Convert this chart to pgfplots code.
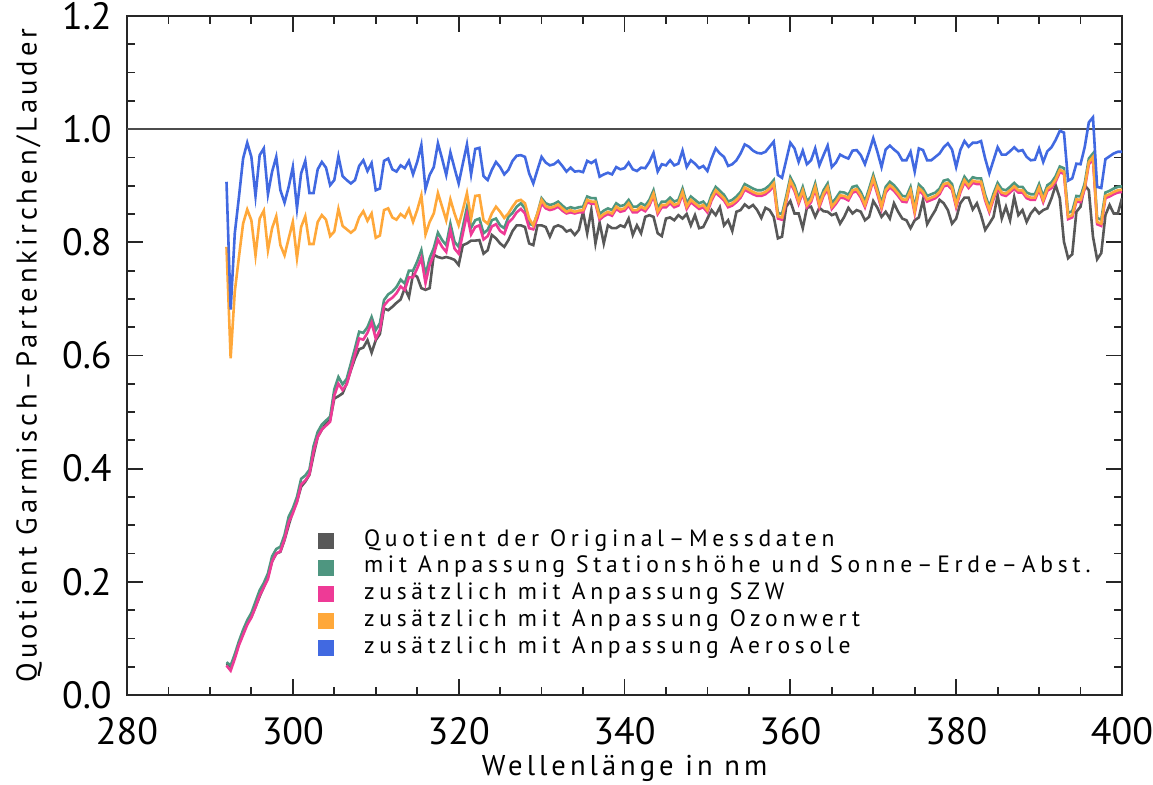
\documentclass[border=0pt]{standalone}
\usepackage{pgfplots}
\pgfplotsset{compat=1.18}
\usepackage{pgfplotstable}
\usepackage{fontspec}
\setmainfont{PT Sans}
\newfontfamily\lblfont[LetterSpace=14]{PT Sans}
\newfontfamily\legfont[LetterSpace=20]{PT Sans}

\definecolor{cgray}{RGB}{88,88,88}
\definecolor{cgreen}{RGB}{78,150,128}
\definecolor{cpink}{RGB}{238,58,150}
\definecolor{corange}{RGB}{255,168,58}
\definecolor{cblue}{RGB}{65,105,225}

% quotient Garmisch-Partenkirchen / Lauder, 0.5 nm steps
\pgfplotstableread{
x gray green pink orange blue
292.0 0.055 0.058 0.052 0.792 0.907
292.5 0.050 0.052 0.043 0.595 0.681
293.0 0.068 0.072 0.064 0.713 0.816
293.5 0.091 0.095 0.088 0.774 0.880
294.0 0.109 0.115 0.106 0.833 0.948
294.5 0.127 0.132 0.124 0.858 0.976
295.0 0.138 0.145 0.137 0.839 0.951
295.5 0.156 0.165 0.155 0.777 0.882
296.0 0.174 0.185 0.176 0.842 0.954
296.5 0.191 0.198 0.190 0.856 0.966
297.0 0.209 0.215 0.205 0.786 0.885
297.5 0.236 0.245 0.236 0.825 0.925
298.0 0.250 0.258 0.250 0.846 0.951
298.5 0.253 0.262 0.254 0.795 0.892
299.0 0.274 0.283 0.275 0.777 0.870
299.5 0.300 0.315 0.305 0.807 0.898
300.0 0.324 0.330 0.321 0.836 0.933
300.5 0.342 0.350 0.341 0.772 0.860
301.0 0.368 0.382 0.372 0.827 0.922
301.5 0.377 0.388 0.379 0.846 0.944
302.0 0.389 0.398 0.390 0.797 0.887
302.5 0.424 0.440 0.430 0.797 0.887
303.0 0.456 0.465 0.456 0.836 0.929
303.5 0.469 0.478 0.469 0.848 0.942
304.0 0.480 0.485 0.476 0.840 0.932
304.5 0.486 0.492 0.483 0.811 0.901
305.0 0.524 0.540 0.529 0.819 0.910
305.5 0.528 0.562 0.550 0.859 0.952
306.0 0.533 0.549 0.539 0.829 0.917
306.5 0.551 0.559 0.549 0.823 0.910
307.0 0.574 0.586 0.575 0.817 0.904
307.5 0.595 0.613 0.602 0.823 0.910
308.0 0.611 0.642 0.630 0.844 0.935
308.5 0.614 0.640 0.628 0.855 0.945
309.0 0.627 0.650 0.640 0.838 0.926
309.5 0.605 0.668 0.658 0.851 0.940
310.0 0.627 0.645 0.630 0.808 0.892
310.5 0.638 0.657 0.645 0.812 0.895
311.0 0.683 0.698 0.688 0.857 0.944
311.5 0.680 0.708 0.697 0.860 0.948
312.0 0.686 0.713 0.702 0.844 0.929
312.5 0.693 0.721 0.710 0.840 0.925
313.0 0.699 0.734 0.722 0.850 0.936
313.5 0.719 0.727 0.716 0.844 0.931
314.0 0.703 0.750 0.738 0.859 0.944
314.5 0.744 0.750 0.738 0.836 0.920
315.0 0.739 0.766 0.754 0.857 0.942
315.5 0.719 0.786 0.772 0.883 0.972
316.0 0.716 0.742 0.728 0.814 0.894
316.5 0.719 0.772 0.760 0.836 0.919
317.0 0.778 0.790 0.778 0.851 0.933
317.5 0.774 0.817 0.805 0.887 0.975
318.0 0.772 0.804 0.792 0.863 0.948
318.5 0.774 0.795 0.783 0.839 0.919
319.0 0.772 0.833 0.821 0.876 0.959
319.5 0.769 0.801 0.789 0.851 0.931
320.0 0.760 0.792 0.780 0.830 0.904
320.5 0.795 0.827 0.815 0.857 0.939
321.0 0.798 0.862 0.850 0.887 0.973
321.5 0.803 0.826 0.814 0.842 0.920
322.0 0.803 0.839 0.827 0.882 0.965
322.5 0.804 0.842 0.830 0.883 0.967
323.0 0.780 0.816 0.805 0.839 0.917
323.5 0.786 0.822 0.811 0.833 0.910
324.0 0.813 0.839 0.828 0.851 0.928
324.5 0.807 0.842 0.832 0.863 0.942
325.0 0.798 0.830 0.820 0.854 0.933
325.5 0.792 0.825 0.815 0.843 0.920
326.0 0.804 0.845 0.835 0.851 0.928
326.5 0.820 0.852 0.842 0.863 0.944
327.0 0.830 0.863 0.853 0.873 0.953
327.5 0.830 0.869 0.859 0.875 0.954
328.0 0.827 0.860 0.851 0.869 0.951
328.5 0.798 0.833 0.825 0.842 0.922
329.0 0.795 0.830 0.823 0.830 0.904
329.5 0.830 0.851 0.843 0.851 0.928
330.0 0.830 0.878 0.869 0.875 0.951
330.5 0.827 0.869 0.860 0.864 0.941
331.0 0.810 0.866 0.857 0.861 0.936
331.5 0.827 0.868 0.859 0.863 0.938
332.0 0.830 0.872 0.863 0.867 0.944
332.5 0.827 0.865 0.856 0.860 0.935
333.0 0.819 0.859 0.851 0.854 0.925
333.5 0.822 0.862 0.853 0.857 0.932
334.0 0.813 0.860 0.851 0.854 0.925
334.5 0.822 0.862 0.853 0.856 0.926
335.0 0.854 0.863 0.853 0.857 0.924
335.5 0.816 0.881 0.871 0.875 0.944
336.0 0.857 0.878 0.868 0.872 0.940
336.5 0.798 0.878 0.868 0.872 0.945
337.0 0.835 0.850 0.840 0.844 0.916
337.5 0.798 0.856 0.846 0.850 0.920
338.0 0.830 0.860 0.850 0.854 0.923
338.5 0.825 0.857 0.847 0.851 0.920
339.0 0.825 0.869 0.859 0.863 0.933
339.5 0.830 0.864 0.854 0.858 0.929
340.0 0.827 0.866 0.856 0.860 0.931
340.5 0.842 0.875 0.865 0.869 0.941
341.0 0.813 0.863 0.853 0.857 0.929
341.5 0.830 0.863 0.853 0.857 0.926
342.0 0.816 0.869 0.859 0.863 0.932
342.5 0.845 0.865 0.855 0.859 0.931
343.0 0.848 0.875 0.865 0.869 0.942
343.5 0.845 0.892 0.882 0.886 0.958
344.0 0.816 0.860 0.850 0.854 0.925
344.5 0.811 0.872 0.862 0.866 0.938
345.0 0.842 0.872 0.862 0.866 0.936
345.5 0.844 0.879 0.869 0.873 0.945
346.0 0.839 0.872 0.862 0.866 0.936
346.5 0.848 0.875 0.865 0.869 0.939
347.0 0.842 0.895 0.885 0.889 0.962
347.5 0.850 0.869 0.859 0.863 0.933
348.0 0.830 0.881 0.871 0.875 0.945
348.5 0.848 0.875 0.865 0.869 0.939
349.0 0.825 0.869 0.859 0.863 0.931
349.5 0.827 0.872 0.862 0.866 0.935
350.0 0.842 0.863 0.853 0.857 0.926
350.5 0.857 0.884 0.874 0.878 0.948
351.0 0.848 0.898 0.888 0.892 0.966
351.5 0.862 0.891 0.881 0.885 0.957
352.0 0.830 0.884 0.874 0.878 0.951
352.5 0.839 0.872 0.862 0.866 0.935
353.0 0.820 0.875 0.865 0.869 0.938
353.5 0.854 0.881 0.871 0.875 0.945
354.0 0.857 0.889 0.879 0.883 0.957
354.5 0.867 0.903 0.893 0.897 0.973
355.0 0.861 0.899 0.889 0.893 0.969
355.5 0.866 0.895 0.885 0.889 0.962
356.0 0.857 0.892 0.882 0.886 0.958
356.5 0.843 0.892 0.882 0.886 0.957
357.0 0.861 0.895 0.885 0.889 0.960
357.5 0.857 0.901 0.891 0.895 0.969
358.0 0.845 0.910 0.900 0.904 0.978
358.5 0.807 0.852 0.842 0.846 0.919
359.0 0.810 0.850 0.840 0.844 0.914
359.5 0.863 0.881 0.871 0.875 0.945
360.0 0.873 0.915 0.905 0.909 0.976
360.5 0.851 0.901 0.891 0.895 0.966
361.0 0.851 0.878 0.868 0.872 0.942
361.5 0.825 0.898 0.888 0.892 0.962
362.0 0.861 0.872 0.862 0.866 0.938
362.5 0.863 0.881 0.871 0.875 0.945
363.0 0.845 0.904 0.894 0.898 0.966
363.5 0.861 0.872 0.862 0.866 0.936
364.0 0.855 0.892 0.882 0.886 0.954
364.5 0.854 0.904 0.894 0.898 0.971
365.0 0.848 0.869 0.859 0.863 0.933
365.5 0.851 0.878 0.868 0.872 0.941
366.0 0.833 0.889 0.879 0.883 0.955
366.5 0.845 0.888 0.878 0.882 0.951
367.0 0.861 0.884 0.874 0.878 0.948
367.5 0.851 0.898 0.888 0.892 0.962
368.0 0.857 0.900 0.890 0.894 0.963
368.5 0.854 0.889 0.879 0.883 0.954
369.0 0.839 0.872 0.862 0.866 0.938
369.5 0.845 0.895 0.885 0.889 0.960
370.0 0.873 0.919 0.909 0.913 0.984
370.5 0.861 0.895 0.885 0.889 0.960
371.0 0.845 0.869 0.859 0.863 0.933
371.5 0.854 0.898 0.888 0.892 0.964
372.0 0.842 0.907 0.897 0.901 0.971
372.5 0.869 0.901 0.891 0.895 0.964
373.0 0.854 0.892 0.882 0.886 0.958
373.5 0.842 0.882 0.872 0.876 0.945
374.0 0.839 0.881 0.871 0.875 0.945
374.5 0.825 0.898 0.888 0.892 0.960
375.0 0.839 0.861 0.851 0.855 0.925
375.5 0.844 0.902 0.892 0.896 0.966
376.0 0.875 0.895 0.885 0.889 0.963
376.5 0.832 0.882 0.872 0.876 0.945
377.0 0.845 0.885 0.875 0.879 0.945
377.5 0.857 0.888 0.878 0.882 0.951
378.0 0.875 0.895 0.885 0.889 0.957
378.5 0.869 0.909 0.899 0.903 0.968
379.0 0.857 0.911 0.901 0.905 0.975
379.5 0.833 0.903 0.893 0.897 0.964
380.0 0.842 0.872 0.862 0.866 0.933
380.5 0.869 0.898 0.888 0.892 0.963
381.0 0.879 0.916 0.906 0.910 0.979
381.5 0.879 0.906 0.896 0.900 0.969
382.0 0.858 0.915 0.905 0.909 0.976
382.5 0.869 0.913 0.903 0.907 0.976
383.0 0.848 0.913 0.903 0.907 0.979
383.5 0.822 0.884 0.874 0.878 0.948
384.0 0.833 0.863 0.853 0.857 0.922
384.5 0.845 0.886 0.876 0.880 0.945
385.0 0.883 0.905 0.895 0.899 0.968
385.5 0.842 0.894 0.884 0.888 0.955
386.0 0.863 0.892 0.882 0.886 0.955
386.5 0.839 0.898 0.888 0.892 0.961
387.0 0.880 0.905 0.895 0.899 0.968
387.5 0.848 0.898 0.888 0.892 0.961
388.0 0.857 0.898 0.888 0.892 0.963
388.5 0.836 0.888 0.878 0.882 0.951
389.0 0.851 0.885 0.875 0.879 0.945
389.5 0.860 0.885 0.875 0.879 0.946
390.0 0.851 0.903 0.893 0.897 0.966
390.5 0.857 0.881 0.871 0.875 0.942
391.0 0.860 0.901 0.891 0.895 0.961
391.5 0.878 0.906 0.896 0.900 0.968
392.0 0.901 0.917 0.907 0.911 0.981
392.5 0.878 0.934 0.924 0.928 0.997
393.0 0.801 0.931 0.921 0.925 0.994
393.5 0.772 0.852 0.841 0.845 0.909
394.0 0.779 0.855 0.844 0.848 0.913
394.5 0.854 0.882 0.872 0.876 0.939
395.0 0.863 0.881 0.871 0.875 0.938
395.5 0.901 0.904 0.894 0.898 0.968
396.0 0.892 0.948 0.938 0.942 1.012
396.5 0.810 0.957 0.947 0.951 1.021
397.0 0.770 0.843 0.832 0.836 0.898
397.5 0.781 0.840 0.829 0.833 0.896
398.0 0.848 0.888 0.878 0.882 0.947
398.5 0.866 0.891 0.881 0.885 0.952
399.0 0.851 0.895 0.885 0.889 0.957
399.5 0.851 0.898 0.888 0.892 0.960
400.0 0.878 0.899 0.889 0.893 0.960
}\quotient

\begin{document}
\begin{tikzpicture}
  % page = reference frame, 1 px = 0.5 pt, axis box at its south west corner
  \path[use as bounding box] (-63.5pt,-45pt) rectangle (513pt,347.5pt);
  \begin{axis}[
    at={(0pt,0pt)}, anchor=south west,
    scale only axis,
    width=497.5pt, height=339.5pt,
    xmin=280, xmax=400,
    ymin=0, ymax=1.2,
    xtick={280,300,...,400},
    ytick={0,0.2,...,1.2},
    minor x tick num=3,
    minor y tick num=3,
    tick align=inside,
    major tick length=8pt,
    minor tick length=4pt,
    axis line style={black!85, line width=1pt},
    tick style={black!85, line width=0.9pt},
    /pgf/number format/assume math mode=true,
    xticklabel style={font=\fontsize{19}{22}\selectfont, anchor=base, inner sep=0pt, yshift=-25pt},
    yticklabel style={font=\fontsize{19}{22}\selectfont, anchor=east, inner sep=0pt, xshift=-7.5pt,
      /pgf/number format/.cd, fixed, fixed zerofill, precision=1},
    xlabel={Wellenlänge in nm},
    ylabel={Quotient Garmisch–Partenkirchen/Lauder},
    xlabel style={font=\lblfont\fontsize{14.3}{16}\selectfont, at={(axis description cs:0.5,0)}, anchor=base, inner sep=0pt, yshift=-40.5pt},
    ylabel style={font=\lblfont\fontsize{14.3}{16}\selectfont, at={(axis description cs:-0.0985,0.5)}, anchor=center},
    legend style={draw=none, fill=none, at={(axis cs:303.0,0.297)}, anchor=north west,
      font=\legfont\fontsize{11.8}{13.4}\selectfont,
      row sep=0pt, inner sep=0pt,
      nodes={inner sep=0pt, text height=9.4pt, text depth=4pt},
      /tikz/every odd column/.append style={column sep=15pt}},
    legend cell align=left,
    legend image code/.code={\fill[#1, draw=none] (0pt,-4pt) rectangle (8pt,4pt);},
    every axis plot/.append style={line width=1.3pt, mark=none},
  ]
    \addplot[black!70, line width=1.1pt, forget plot] coordinates {(280,1) (400,1)};
    \addplot[cgray] table[x=x, y=gray] {\quotient};
    \addlegendentry{Quotient der Original–Messdaten}
    \addplot[cgreen] table[x=x, y=green] {\quotient};
    \addlegendentry{mit Anpassung Stationshöhe und Sonne–Erde–Abst.}
    \addplot[cpink] table[x=x, y=pink] {\quotient};
    \addlegendentry{zusätzlich mit Anpassung SZW}
    \addplot[corange] table[x=x, y=orange] {\quotient};
    \addlegendentry{zusätzlich mit Anpassung Ozonwert}
    \addplot[cblue] table[x=x, y=blue] {\quotient};
    \addlegendentry{zusätzlich mit Anpassung Aerosole}
  \end{axis}
\end{tikzpicture}
\end{document}
